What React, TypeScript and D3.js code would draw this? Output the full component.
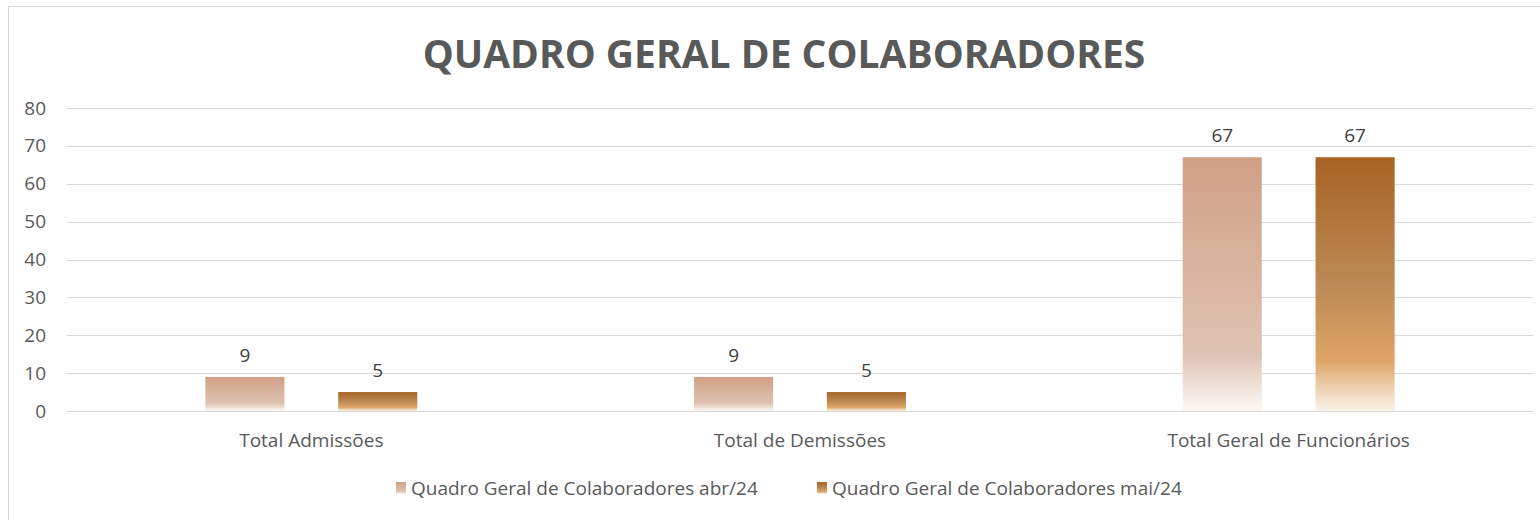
import { useEffect, useRef } from 'react';
import { select, scaleBand, scaleLinear } from 'd3';

const categories = ['Total Admissões', 'Total de Demissões', 'Total Geral de Funcionários'];
const seriesNames = ['Quadro Geral de Colaboradores abr/24', 'Quadro Geral de Colaboradores mai/24'];
const abr24 = [9, 9, 67];
const mai24 = [5, 5, 67];
const yTicks = [0, 10, 20, 30, 40, 50, 60, 70, 80];

const W = 1540;
const H = 520;
const plot = { left: 67, right: 1533, top: 108, bottom: 411 };
const font = "'Open Sans', sans-serif";
const textColor = '#595959';
const fs = 19;

const gradients = [
  {
    id: 'g-abr',
    stops: [
      [0, '#d0a085'],
      [0.78, '#dfc3b3'],
      [1, '#fdf9f6'],
    ],
  },
  {
    id: 'g-mai',
    stops: [
      [0, '#a86323'],
      [0.5, '#bc8a55'],
      [0.8, '#dea466'],
      [1, '#fbf4ec'],
    ],
  },
];

export default function App() {
  const svgRef = useRef<SVGSVGElement>(null);

  useEffect(() => {
    if (!svgRef.current) return;
    const svg = select(svgRef.current);
    svg.selectAll('*').remove();

    const defs = svg.append('defs');
    gradients.forEach((g) => {
      const lg = defs
        .append('linearGradient')
        .attr('id', g.id)
        .attr('x1', 0)
        .attr('y1', 0)
        .attr('x2', 0)
        .attr('y2', 1);
      g.stops.forEach(([o, c]) => {
        lg.append('stop').attr('offset', o as number).attr('stop-color', c as string);
      });
    });

    // background + border
    svg.append('rect').attr('width', W).attr('height', H).attr('fill', '#ffffff');
    svg
      .append('rect')
      .attr('x', 8.5)
      .attr('y', 6.5)
      .attr('width', W + 10)
      .attr('height', H + 10)
      .attr('fill', '#ffffff')
      .attr('stroke', '#d9d9d9')
      .attr('stroke-width', 1);

    const x = scaleBand<string>().domain(categories).range([plot.left, plot.right]);
    const y = scaleLinear().domain([0, 80]).range([plot.bottom, plot.top]);

    // band layout like excel: gap width 350%, overlap -68%
    const barW = x.bandwidth() / (2 + 0.68 + 3.5);
    const gap = barW * 0.68;

    // title
    svg
      .append('text')
      .attr('x', 784)
      .attr('y', 68)
      .attr('text-anchor', 'middle')
      .attr('font-family', font)
      .attr('font-weight', 'bold')
      .attr('font-size', 39)
      .attr('fill', textColor)
      .text('QUADRO GERAL DE COLABORADORES');

    // grid + y labels
    const grid = svg.append('g');
    yTicks.forEach((t) => {
      grid
        .append('line')
        .attr('x1', plot.left)
        .attr('x2', plot.right)
        .attr('y1', Math.round(y(t)) + 0.5)
        .attr('y2', Math.round(y(t)) + 0.5)
        .attr('stroke', '#d9d9d9')
        .attr('stroke-width', 1);
      grid
        .append('text')
        .attr('x', 46)
        .attr('y', y(t) + 6.5)
        .attr('text-anchor', 'end')
        .attr('font-family', font)
        .attr('font-size', fs)
        .attr('fill', textColor)
        .text(t);
    });

    const series = [abr24, mai24];
    series.forEach((vals, si) => {
      const g = svg.append('g');
      categories.forEach((c, ci) => {
        const center = x(c)! + x.bandwidth() / 2;
        const bx = si === 0 ? center - gap / 2 - barW : center + gap / 2;
        g.append('rect')
          .attr('x', bx)
          .attr('y', y(vals[ci]))
          .attr('width', barW)
          .attr('height', y(0) - y(vals[ci]))
          .attr('fill', `url(#${gradients[si].id})`);
        g.append('text')
          .attr('x', bx + barW / 2)
          .attr('y', y(vals[ci]) - 15)
          .attr('text-anchor', 'middle')
          .attr('font-family', font)
          .attr('font-size', fs)
          .attr('fill', '#404040')
          .text(vals[ci]);
      });
    });

    // category labels
    categories.forEach((c) => {
      svg
        .append('text')
        .attr('x', x(c)! + x.bandwidth() / 2)
        .attr('y', 447)
        .attr('text-anchor', 'middle')
        .attr('font-family', font)
        .attr('font-size', fs)
        .attr('fill', textColor)
        .text(c);
    });

    // legend
    const legendX = [396, 817];
    seriesNames.forEach((n, i) => {
      svg
        .append('rect')
        .attr('x', legendX[i])
        .attr('y', 482)
        .attr('width', 10)
        .attr('height', 12)
        .attr('fill', `url(#${gradients[i].id})`);
      svg
        .append('text')
        .attr('x', legendX[i] + 15)
        .attr('y', 495)
        .attr('font-family', font)
        .attr('font-size', fs)
        .attr('fill', textColor)
        .text(n);
    });
  }, []);

  return (
    <div style={{ position: 'absolute', left: 0, top: 0 }}>
      <svg ref={svgRef} width={W} height={H} />
    </div>
  );
}
